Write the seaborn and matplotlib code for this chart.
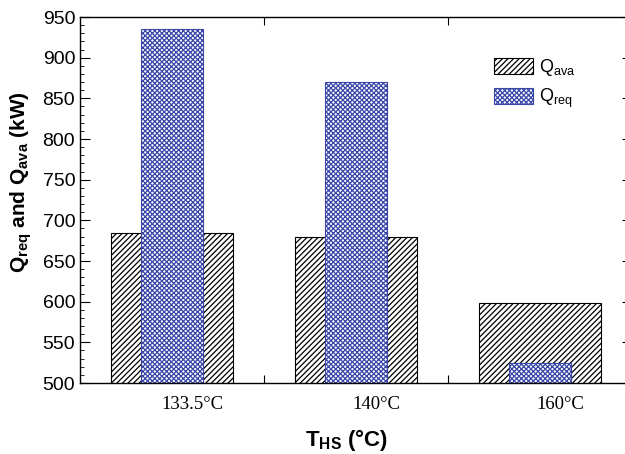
import matplotlib
matplotlib.use("Agg")
import matplotlib.pyplot as plt
import numpy as np
import pandas as pd
import seaborn as sns
from matplotlib.ticker import MultipleLocator, FixedLocator

# data
temps = ["133.5°C", "140°C", "160°C"]
q_ava = [684, 680, 598]
q_req = [935, 870, 524]

sns.set_style("ticks")
plt.rcParams["font.family"] = ["Liberation Sans", "DejaVu Sans"]
plt.rcParams["mathtext.fontset"] = "custom"
plt.rcParams["mathtext.rm"] = "Liberation Sans"
plt.rcParams["mathtext.it"] = "Liberation Sans:italic"
plt.rcParams["mathtext.bf"] = "Liberation Sans:bold"
plt.rcParams["hatch.linewidth"] = 0.9
for k in ["text.color", "axes.labelcolor", "xtick.color", "ytick.color", "axes.edgecolor"]:
    plt.rcParams[k] = "black"

df = pd.DataFrame({"T": temps, "ava": q_ava, "req": q_req})
blue = "#3847a8"

fig = plt.figure(figsize=(6.25, 4.54), dpi=100)
ax = fig.add_axes([80 / 625, 1 - 383 / 454, 552 / 625, 366 / 454])

sns.barplot(data=df, x="T", y="ava", ax=ax, width=0.66, color="white",
            edgecolor="black", linewidth=0.8, hatch="//////", label="$\\mathregular{Q_{ava}}$")
sns.barplot(data=df, x="T", y="req", ax=ax, width=0.335, color="white",
            edgecolor=blue, linewidth=0.8, hatch="xxxxxxx", label="$\\mathregular{Q_{req}}$")

for p in ax.patches[:len(temps)]:
    p.set_edgecolor("black")
for p in ax.patches[len(temps):]:
    p.set_edgecolor(blue)

ax.set_xlim(-0.5, 2.5)
ax.set_ylim(500, 950)
ax.yaxis.set_major_locator(MultipleLocator(50))
ax.yaxis.set_minor_locator(MultipleLocator(10))
ax.xaxis.set_major_locator(FixedLocator([0.5, 1.5]))
ax.set_xticklabels([])
ax.tick_params(axis="x", which="major", direction="in", top=True, bottom=True, length=6, width=0.8)
ax.tick_params(axis="y", which="major", direction="in", left=True, right=True, length=7, width=0.8, labelsize=14)
ax.tick_params(axis="y", which="minor", direction="in", left=True, right=False, length=3, width=0.6)
ax.spines["right"].set_visible(False)
for s in ["left", "top", "bottom"]:
    ax.spines[s].set_linewidth(1.0)

# category labels (serif), slightly right of bar centers
for i, t in enumerate(temps):
    ax.text(i + 0.11, -0.035, t, transform=ax.get_xaxis_transform(), ha="center", va="top",
            fontsize=13.5, family=["Liberation Serif", "DejaVu Serif"])

ax.set_xlabel("$\\mathbf{T_{HS}}$ (°C)", fontsize=16, fontweight="bold")
ax.xaxis.set_label_coords(0.482, -0.12, transform=ax.transAxes)
ax.set_ylabel("$\\mathbf{Q_{req}}$ and $\\mathbf{Q_{ava}}$ (kW)", fontsize=15, fontweight="bold")
ax.yaxis.set_label_coords(-0.083, 0.549)

leg = ax.legend(loc="upper left", bbox_to_anchor=(0.72, 0.935), frameon=False, fontsize=13,
                handlelength=2.2, handleheight=1.0, handletextpad=0.3, labelspacing=0.5)
for h in leg.legend_handles:
    h.set_linewidth(0.8)

fig.savefig("out.png", dpi=100)
